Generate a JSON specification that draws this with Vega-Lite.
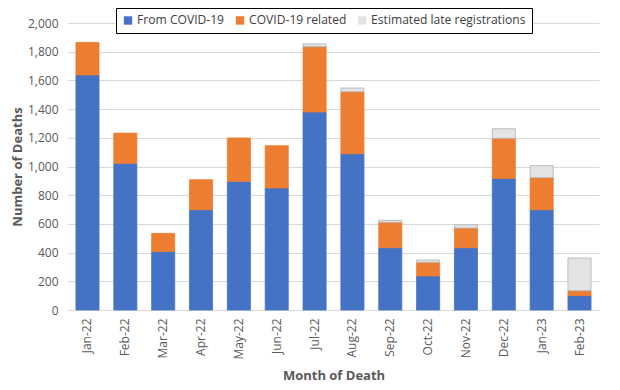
{
  "$schema": "https://vega.github.io/schema/vega-lite/v6.json",
  "width": 531,
  "height": 287,
  "autosize": {"type": "none"},
  "padding": {"left": 68, "top": 23, "right": 21, "bottom": 80},
  "background": "white",
  "config": {
    "font": "Open Sans",
    "view": {"stroke": null},
    "axis": {"labelColor": "#595959", "titleColor": "#595959", "labelFontSize": 12, "titleFontSize": 13, "titleFontWeight": "bold"}
  },
  "data": {
    "values": [
      {"month": "Jan-22", "cat": "From COVID-19", "ord": 1, "deaths": 1638},
      {"month": "Jan-22", "cat": "COVID-19 related", "ord": 2, "deaths": 227},
      {"month": "Feb-22", "cat": "From COVID-19", "ord": 1, "deaths": 1022},
      {"month": "Feb-22", "cat": "COVID-19 related", "ord": 2, "deaths": 211},
      {"month": "Mar-22", "cat": "From COVID-19", "ord": 1, "deaths": 408},
      {"month": "Mar-22", "cat": "COVID-19 related", "ord": 2, "deaths": 126},
      {"month": "Apr-22", "cat": "From COVID-19", "ord": 1, "deaths": 699},
      {"month": "Apr-22", "cat": "COVID-19 related", "ord": 2, "deaths": 209},
      {"month": "May-22", "cat": "From COVID-19", "ord": 1, "deaths": 896},
      {"month": "May-22", "cat": "COVID-19 related", "ord": 2, "deaths": 303},
      {"month": "Jun-22", "cat": "From COVID-19", "ord": 1, "deaths": 850},
      {"month": "Jun-22", "cat": "COVID-19 related", "ord": 2, "deaths": 295},
      {"month": "Jul-22", "cat": "From COVID-19", "ord": 1, "deaths": 1380},
      {"month": "Jul-22", "cat": "COVID-19 related", "ord": 2, "deaths": 455},
      {"month": "Jul-22", "cat": "Estimated late registrations", "ord": 3, "deaths": 19},
      {"month": "Aug-22", "cat": "From COVID-19", "ord": 1, "deaths": 1089},
      {"month": "Aug-22", "cat": "COVID-19 related", "ord": 2, "deaths": 432},
      {"month": "Aug-22", "cat": "Estimated late registrations", "ord": 3, "deaths": 26},
      {"month": "Sep-22", "cat": "From COVID-19", "ord": 1, "deaths": 434},
      {"month": "Sep-22", "cat": "COVID-19 related", "ord": 2, "deaths": 177},
      {"month": "Sep-22", "cat": "Estimated late registrations", "ord": 3, "deaths": 14},
      {"month": "Oct-22", "cat": "From COVID-19", "ord": 1, "deaths": 237},
      {"month": "Oct-22", "cat": "COVID-19 related", "ord": 2, "deaths": 95},
      {"month": "Oct-22", "cat": "Estimated late registrations", "ord": 3, "deaths": 16},
      {"month": "Nov-22", "cat": "From COVID-19", "ord": 1, "deaths": 434},
      {"month": "Nov-22", "cat": "COVID-19 related", "ord": 2, "deaths": 137},
      {"month": "Nov-22", "cat": "Estimated late registrations", "ord": 3, "deaths": 23},
      {"month": "Dec-22", "cat": "From COVID-19", "ord": 1, "deaths": 917},
      {"month": "Dec-22", "cat": "COVID-19 related", "ord": 2, "deaths": 279},
      {"month": "Dec-22", "cat": "Estimated late registrations", "ord": 3, "deaths": 67},
      {"month": "Jan-23", "cat": "From COVID-19", "ord": 1, "deaths": 699},
      {"month": "Jan-23", "cat": "COVID-19 related", "ord": 2, "deaths": 223},
      {"month": "Jan-23", "cat": "Estimated late registrations", "ord": 3, "deaths": 84},
      {"month": "Feb-23", "cat": "From COVID-19", "ord": 1, "deaths": 100},
      {"month": "Feb-23", "cat": "COVID-19 related", "ord": 2, "deaths": 34},
      {"month": "Feb-23", "cat": "Estimated late registrations", "ord": 3, "deaths": 228}
    ]
  },
  "mark": {"type": "bar", "strokeWidth": 0.8},
  "encoding": {
    "x": {
      "field": "month", "type": "nominal", "sort": null,
      "scale": {"paddingInner": 0.39, "paddingOuter": 0.21},
      "axis": {"title": "Month of Death", "labelAngle": 270, "ticks": false, "labelPadding": 8, "titlePadding": 10, "domainColor": "#d9d9d9", "labelBaseline": "middle", "labelAlign": "right"}
    },
    "y": {
      "field": "deaths", "type": "quantitative", "aggregate": "sum", "stack": "zero",
      "scale": {"domain": [0, 2000], "nice": false},
      "axis": {"title": "Number of Deaths", "values": [0, 200, 400, 600, 800, 1000, 1200, 1400, 1600, 1800, 2000], "format": ",d", "domain": false, "ticks": false, "gridColor": "#d9d9d9", "labelPadding": 10, "titlePadding": 3}
    },
    "color": {
      "field": "cat", "type": "nominal",
      "scale": {"domain": ["From COVID-19", "COVID-19 related", "Estimated late registrations"], "range": ["#4472C4", "#ED7D31", "#e4e4e4"]},
      "legend": {"title": null, "orient": "none", "direction": "horizontal", "legendX": 48, "legendY": -15, "strokeColor": "#000000", "padding": 6, "labelFontSize": 12.1, "labelColor": "#404040", "symbolType": "square", "symbolSize": 70, "symbolStrokeWidth": 0, "columnPadding": 9, "labelOffset": 3, "fillColor": "white"}
    },
    "stroke": {
      "field": "cat", "type": "nominal",
      "scale": {"domain": ["From COVID-19", "COVID-19 related", "Estimated late registrations"], "range": ["#4472C4", "#ED7D31", "#b0b0b0"]},
      "legend": null
    },
    "order": {"field": "ord", "type": "quantitative"}
  }
}
